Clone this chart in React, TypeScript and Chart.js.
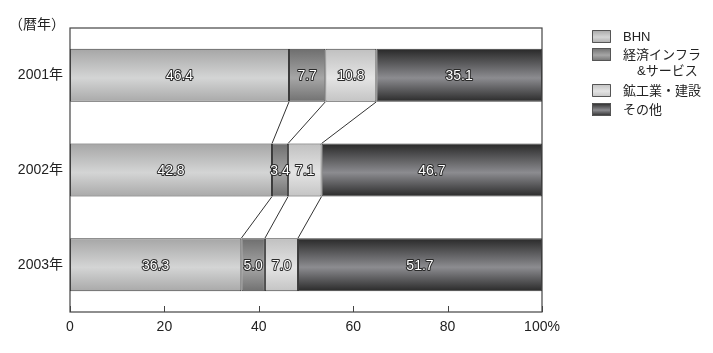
import React, { useEffect, useRef } from "react";
import { Chart, registerables } from "chart.js";

Chart.register(...registerables);

const categories = ["2001年", "2002年", "2003年"];
const seriesNames = ["BHN", "経済インフラ\n&サービス", "鉱工業・建設", "その他"];
const bhn = [46.4, 42.8, 36.3];
const infra = [7.7, 3.4, 5.0];
const mining = [10.8, 7.1, 7.0];
const other = [35.1, 46.7, 51.7];
const xTicks = [0, 20, 40, 60, 80, 100];
const yAxisTitle = "（暦年）";

const FONT = "'Liberation Sans', 'Noto Sans CJK JP', sans-serif";

// [edge-top, middle, edge-bottom]
const palettes = [
  ["#a6a6a6", "#d4d5d5", "#a9a9a9"],
  ["#6e6e6e", "#a6a6a6", "#717171"],
  ["#c0c0c0", "#e4e4e4", "#c4c4c4"],
  ["#282828", "#8c8c90", "#2a2a2a"],
];

function makeGrad(ctx: CanvasRenderingContext2D, y0: number, y1: number, p: string[]) {
  const g = ctx.createLinearGradient(0, y0, 0, y1);
  g.addColorStop(0, p[0]);
  g.addColorStop(0.55, p[1]);
  g.addColorStop(1, p[2]);
  return g;
}

const BAR_PCT = 0.56;

function bgFor(di: number) {
  return (c: any) => {
    const chart = c.chart;
    const ys = chart.scales && chart.scales.y;
    if (!ys || !chart.chartArea || c.dataIndex === undefined) return palettes[di][1];
    const yc = ys.getPixelForValue(c.dataIndex);
    const half = ((ys.bottom - ys.top) / categories.length) * BAR_PCT / 2;
    return makeGrad(chart.ctx, yc - half, yc + half, palettes[di]);
  };
}

const decorPlugin = {
  id: "decor",
  beforeDatasetsDraw(chart: any) {
    const { ctx, chartArea: a } = chart;
    ctx.save();
    ctx.fillStyle = "#fff";
    ctx.fillRect(a.left, a.top, a.right - a.left, a.bottom - a.top);
    ctx.restore();
  },
  afterDatasetsDraw(chart: any) {
    const { ctx, chartArea: a } = chart;
    const xs = chart.scales.x;
    ctx.save();
    // connector lines
    ctx.strokeStyle = "#333";
    ctx.lineWidth = 1;
    for (let d = 0; d < 3; d++) {
      const meta = chart.getDatasetMeta(d);
      for (let i = 0; i < meta.data.length - 1; i++) {
        const e1 = meta.data[i];
        const e2 = meta.data[i + 1];
        ctx.beginPath();
        ctx.moveTo(e1.x, e1.y + e1.height / 2);
        ctx.lineTo(e2.x, e2.y - e2.height / 2);
        ctx.stroke();
      }
    }
    // box
    ctx.strokeStyle = "#444";
    ctx.lineWidth = 1.2;
    ctx.strokeRect(a.left, a.top, a.right - a.left, a.bottom - a.top);
    // inner ticks
    ctx.lineWidth = 1;
    xTicks.forEach((v) => {
      const px = Math.round(xs.getPixelForValue(v)) + 0.5;
      ctx.beginPath();
      ctx.moveTo(px, a.bottom);
      ctx.lineTo(px, a.bottom - 6);
      ctx.stroke();
    });
    // value labels
    ctx.font = `14px ${FONT}`;
    ctx.textAlign = "center";
    ctx.textBaseline = "middle";
    ctx.lineJoin = "round";
    chart.data.datasets.forEach((ds: any, d: number) => {
      const meta = chart.getDatasetMeta(d);
      meta.data.forEach((el: any, i: number) => {
        const t = Number(ds.data[i]).toFixed(1);
        const cx = (el.x + el.base) / 2;
        ctx.strokeStyle = "#2a2a2a";
        ctx.lineWidth = 2;
        ctx.strokeText(t, cx, el.y + 1);
        ctx.fillStyle = "#fff";
        ctx.fillText(t, cx, el.y + 1);
      });
    });
    // y axis title
    ctx.fillStyle = "#222";
    ctx.textAlign = "left";
    ctx.font = `14px ${FONT}`;
    ctx.fillText(yAxisTitle, 9, a.top - 3);
    // legend
    const lx = a.right + 50;
    const tops = [30, 48, 84, 103];
    ctx.font = `13px ${FONT}`;
    chart.data.datasets.forEach((ds: any, d: number) => {
      const ty = tops[d];
      ctx.fillStyle = makeGrad(ctx, ty, ty + 13, palettes[d]);
      ctx.fillRect(lx, ty, 19, 13);
      ctx.strokeStyle = "#555";
      ctx.lineWidth = 1;
      ctx.strokeRect(lx + 0.5, ty + 0.5, 18, 12);
      const lines = String(ds.label).split("\n");
      ctx.fillStyle = "#222";
      ctx.textAlign = "left";
      lines.forEach((ln: string, k: number) => {
        ctx.fillText(ln, lx + 31 + (k > 0 ? 14 : 0), ty + 7 + k * 16.5);
      });
    });
    ctx.restore();
  },
};

export default function App() {
  const ref = useRef<HTMLCanvasElement | null>(null);
  useEffect(() => {
    if (!ref.current) return;
    const series = [bhn, infra, mining, other];
    const chart = new Chart(ref.current, {
      type: "bar",
      data: {
        labels: categories,
        datasets: series.map((s, d) => ({
          label: seriesNames[d],
          data: s,
          backgroundColor: bgFor(d),
          borderColor: "#3a3a3a",
          borderWidth: 1,
          borderSkipped: false,
          barPercentage: BAR_PCT,
          categoryPercentage: 1,
        })),
      },
      options: {
        indexAxis: "y",
        animation: false,
        responsive: true,
        maintainAspectRatio: false,
        layout: { padding: { left: 0, top: 28, right: 171, bottom: 0 } },
        plugins: { legend: { display: false }, tooltip: { enabled: false } },
        scales: {
          x: {
            type: "linear",
            stacked: true,
            min: 0,
            max: 100,
            grid: { display: false, drawTicks: false },
            border: { display: false },
            afterBuildTicks: (s: any) => {
              s.ticks = xTicks.map((v) => ({ value: v }));
            },
            afterFit: (s: any) => {
              s.height = 41;
            },
            ticks: {
              padding: 7,
              color: "#222",
              font: { size: 14, family: FONT },
              maxRotation: 0,
              callback: (v: any) => (Number(v) === 100 ? "100%" : String(v)),
            },
          },
          y: {
            type: "category",
            stacked: true,
            grid: { display: false, drawTicks: false },
            border: { display: false },
            afterFit: (s: any) => {
              s.width = 70;
            },
            ticks: {
              padding: 7,
              color: "#222",
              font: { size: 14, family: FONT },
            },
          },
        },
      },
      plugins: [decorPlugin],
    });
    return () => chart.destroy();
  }, []);
  return (
    <div style={{ position: "absolute", left: 0, top: 0, width: 713, height: 353, background: "#fff" }}>
      <canvas ref={ref} />
    </div>
  );
}
